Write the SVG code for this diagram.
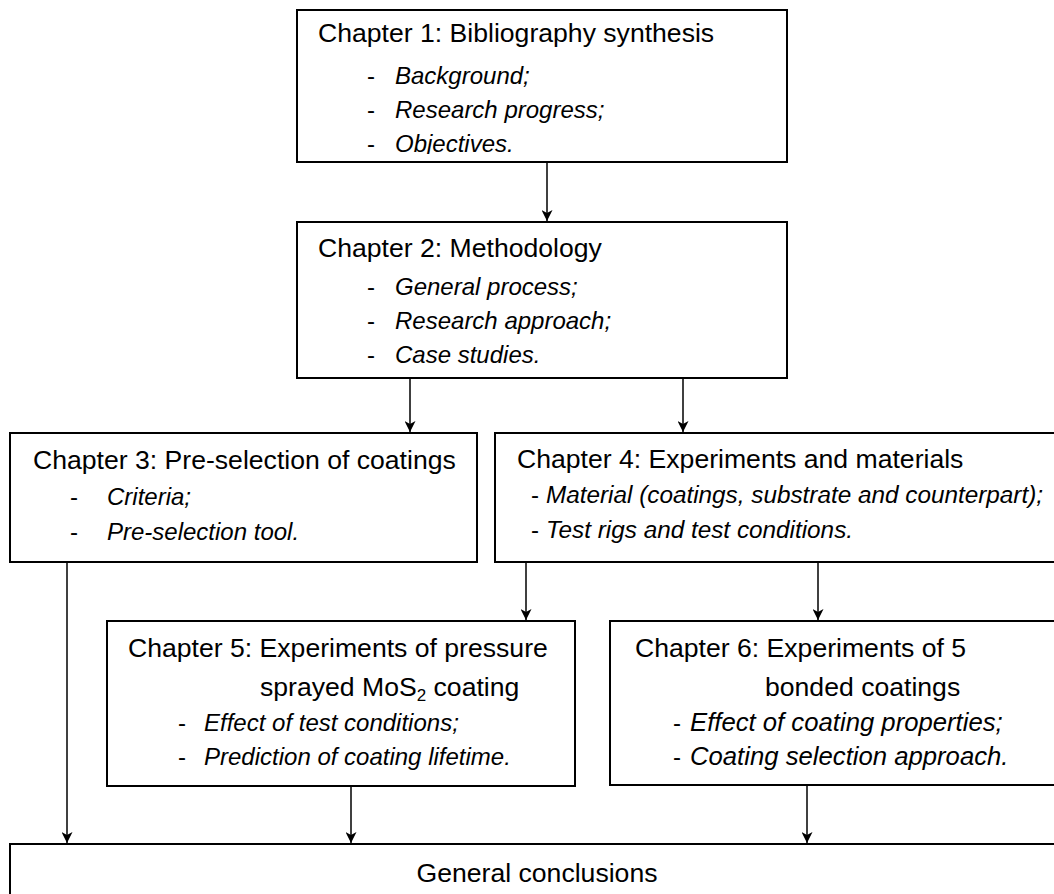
<svg xmlns="http://www.w3.org/2000/svg" width="1054" height="894" viewBox="0 0 1054 894">
<style>
.box{fill:#fff;stroke:#000;stroke-width:2}
.t{font-family:"Liberation Sans",Arial,sans-serif;font-size:26.6px;fill:#000}
.b{font-family:"Liberation Sans",Arial,sans-serif;font-size:24px;font-style:italic;fill:#000}
.d{font-family:"Liberation Sans",Arial,sans-serif;font-size:24px;fill:#000}
.c{stroke:#000;stroke-width:1.5;fill:none;marker-end:url(#ah)}
</style>
<defs>
<marker id="ah" markerUnits="userSpaceOnUse" markerWidth="12" markerHeight="11" refX="11" refY="5.5" orient="auto">
<path d="M0,0 L11,5.5 L0,11 L3,5.5 Z" fill="#000"/>
</marker>
<clipPath id="clip1"><rect x="297" y="10" width="490" height="144"/></clipPath>
</defs>
<rect width="1054" height="894" fill="#fff"/>
<g id="connectors">
<line class="c" x1="547" y1="162" x2="547" y2="221"/>
<line class="c" x1="410" y1="378" x2="410" y2="432"/>
<line class="c" x1="683" y1="378" x2="683" y2="432"/>
<line class="c" x1="526" y1="562" x2="526" y2="620"/>
<line class="c" x1="818" y1="562" x2="818" y2="620"/>
<line class="c" x1="67" y1="562" x2="67" y2="843"/>
<line class="c" x1="351" y1="786" x2="351" y2="843"/>
<line class="c" x1="807" y1="785" x2="807" y2="843"/>
</g>
<g id="ch1">
<rect class="box" x="297" y="10" width="490" height="152"/>
<g clip-path="url(#clip1)">
<text class="t" x="318" y="42">Chapter 1: Bibliography synthesis</text>
<text class="d" x="367" y="84">-</text><text class="b" x="395" y="84">Background;</text>
<text class="d" x="367" y="118">-</text><text class="b" x="395" y="118">Research progress;</text>
<text class="d" x="367" y="152">-</text><text class="b" x="395" y="152">Objectives.</text>
</g>
</g>
<g id="ch2">
<rect class="box" x="297" y="222" width="490" height="156"/>
<text class="t" x="318" y="257">Chapter 2: Methodology</text>
<text class="d" x="367" y="295">-</text><text class="b" x="395" y="295">General process;</text>
<text class="d" x="367" y="329">-</text><text class="b" x="395" y="329">Research approach;</text>
<text class="d" x="367" y="363">-</text><text class="b" x="395" y="363">Case studies.</text>
</g>
<g id="ch3">
<rect class="box" x="10" y="433" width="467" height="129"/>
<text class="t" x="33" y="469">Chapter 3: Pre-selection of coatings</text>
<text class="d" x="70" y="505">-</text><text class="b" x="107" y="505">Criteria;</text>
<text class="d" x="70" y="540">-</text><text class="b" x="107" y="540">Pre-selection tool.</text>
</g>
<g id="ch4">
<rect class="box" x="495" y="433" width="580" height="129"/>
<text class="t" x="517" y="468">Chapter 4: Experiments and materials</text>
<text class="d" x="531" y="503">-</text><text class="b" x="546" y="503" style="font-size:24.3px">Material (coatings, substrate and counterpart);</text>
<text class="d" x="531" y="538">-</text><text class="b" x="546" y="538" style="font-size:24.3px">Test rigs and test conditions.</text>
</g>
<g id="ch5">
<rect class="box" x="107" y="621" width="468" height="165"/>
<text class="t" x="128" y="657">Chapter 5: Experiments of pressure</text>
<text class="t" x="260" y="696">sprayed MoS<tspan style="font-size:17px" dy="5">2</tspan><tspan dy="-5"> coating</tspan></text>
<text class="d" x="178" y="731">-</text><text class="b" x="204" y="731">Effect of test conditions;</text>
<text class="d" x="178" y="765">-</text><text class="b" x="204" y="765">Prediction of coating lifetime.</text>
</g>
<g id="ch6">
<rect class="box" x="610" y="621" width="465" height="164"/>
<text class="t" x="635" y="657">Chapter 6: Experiments of 5</text>
<text class="t" x="765" y="696">bonded coatings</text>
<text class="d" x="673" y="731">-</text><text class="b" x="690" y="731" style="font-size:25.7px">Effect of coating properties;</text>
<text class="d" x="673" y="765">-</text><text class="b" x="690" y="765" style="font-size:25.7px">Coating selection approach.</text>
</g>
<g id="conclusions">
<rect class="box" x="10" y="844" width="1070" height="70"/>
<text class="t" x="537" y="882" text-anchor="middle">General conclusions</text>
</g>
</svg>
